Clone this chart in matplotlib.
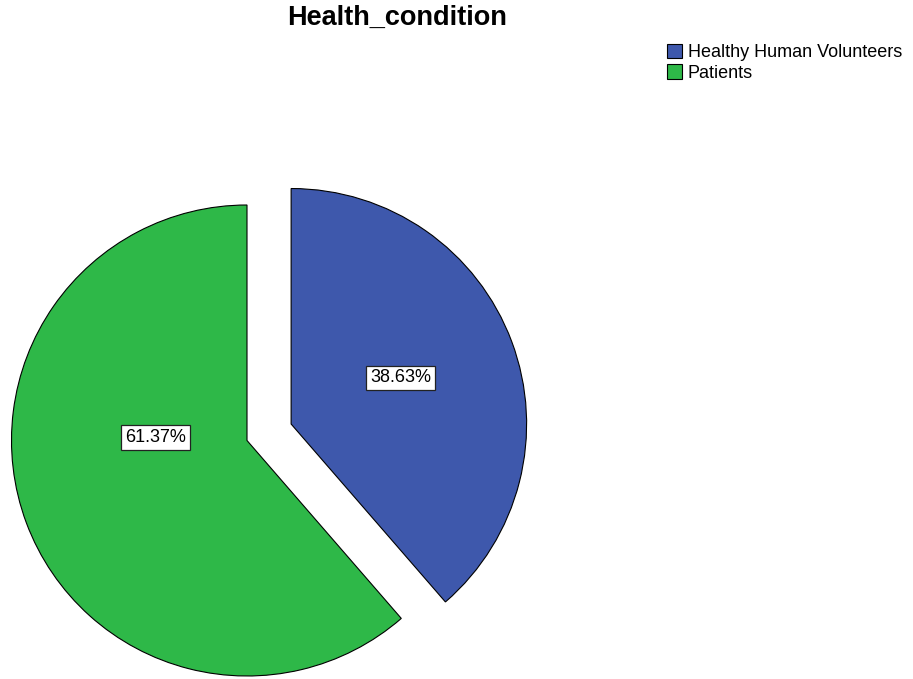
import matplotlib.pyplot as plt

# 健康状况构成（百分比）
groups = ['Healthy Human Volunteers', 'Patients']
shares = [38.63, 61.37]
colors = ['#3E58AC', '#2EB848']

plt.rcParams['font.family'] = ['Liberation Sans', 'DejaVu Sans']

fig = plt.figure(figsize=(9.13, 6.79), dpi=100)
ax = fig.add_axes([0, 0, 1, 1])

# 画布按像素建坐标，y 轴向上
W, H = 913, 679
cx, cy, r = 247, H - 440.5, 235.5
# explode 在 pie 里是绝对长度，不乘半径
explode = [0.2 * r, 0.0]

wedges, texts, autotexts = ax.pie(
    shares, colors=colors, explode=explode, startangle=90, counterclock=False,
    center=(cx, cy), radius=r, autopct='%.2f%%', pctdistance=0.5,
    wedgeprops=dict(edgecolor='black', linewidth=0.8),
    textprops=dict(fontsize=13, color='black'))

# 百分比标签位置微调
label_xy = [(400.5, H - 378), (155.5, H - 437.5)]
for t, (x, y) in zip(autotexts, label_xy):
    t.set_position((x, y))
    t.set_ha('center')
    t.set_va('center')
    t.set_bbox(dict(boxstyle='square,pad=0.2', facecolor='white',
                    edgecolor='#222222', linewidth=0.9))

ax.set_xlim(0, W)
ax.set_ylim(0, H)
ax.set_aspect('equal')
ax.axis('off')

fig.text(397.5 / W, 1 - 18 / H, 'Health_condition', ha='center', va='center',
         fontsize=19.5, fontweight='bold')

leg = fig.legend(wedges, groups, loc='upper left',
                 bbox_to_anchor=(667 / W, 1 - 44 / H), frameon=False,
                 fontsize=13, handlelength=0.85, handleheight=0.85,
                 handletextpad=0.3, labelspacing=0.15, borderpad=0,
                 borderaxespad=0)

plt.savefig('out.png', dpi=100)
